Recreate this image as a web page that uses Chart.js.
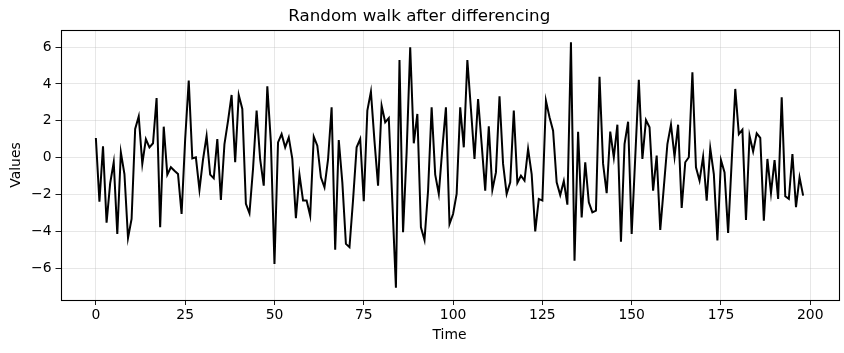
<!DOCTYPE html>
<html>
<head>
<meta charset="utf-8">
<script src="https://cdn.jsdelivr.net/npm/chart.js@4.4.1/dist/chart.umd.min.js"></script>
<style>
  html, body { margin: 0; padding: 0; background: #fff; }
  canvas { display: block; }
</style>
</head>
<body>
<canvas id="chart" width="844" height="353"></canvas>
<script>
// Valores (serie diferenciada, 199 puntos)
const values = [
  1.07, -2.39, 0.61, -3.53, -1.4, -0.25, -4.14, 0.29, -0.89, -4.36,
  -3.33, 1.56, 2.24, -0.34, 1.01, 0.56, 0.78, 3.24, -3.78, 1.68,
  -0.92, -0.52, -0.71, -0.89, -3.06, 1.0, 4.18, -0.04, 0.02, -1.75,
  -0.1, 1.18, -0.92, -1.12,
  1.01, -2.30, 0.74, 2.0, 3.4, -0.25, 3.4, 2.64, -2.51, -3.02,
  -0.6, 2.55, -0.1, -1.52, 3.87, 0.83, -5.77, 0.83, 1.28, 0.56,
  1.1, -0.07, -3.29, -0.92, -2.33, -2.33, -3.15, 1.14, 0.65, -1.07,
  -1.61,
  -0.1, 2.73, -5.0, 0.96, -1.34, -4.68, -4.86, -2.3, 0.56, 1.01,
  -2.37, 2.55, 3.58, 0.9, -1.52, 2.82, 1.92, 2.15, -2.4, -7.06,
  5.30, -4.05, 0.3, 5.99, 0.78, 2.37, -3.78, -4.47, -1.8, 2.73,
  -0.92, -1.97, 0.5, 2.73, -3.6,
  -3.06, -1.97, 2.73, 0.56, 5.30, 2.64, -0.07, 3.18, 0.74, -1.79,
  1.70, -1.74, -0.80, 3.33, -0.34, -1.97, -1.34, 2.55, -1.37, -0.98,
  -1.25, 0.47, -0.89, -4.0, -2.24, -2.33, 3.09, 2.19, 1.46, -1.34,
  -2.03, -1.27, -2.55,
  6.26, -5.59, 1.41, -3.24, -0.25, -2.42, -2.97, -2.88, 4.39, -0.34,
  -1.93, 1.41, 0.02, 1.79, -4.56, 0.74, 1.95, -4.14, 0.02, 4.23,
  -0.07, 2.04, 1.65, -1.79, 0.11, -3.92, -1.6, 0.74, 1.79, 0.05,
  1.79, -2.73,
  -0.25, 0.02, 4.63, -0.52, -1.25, 0.05, -2.33, 0.51, -0.89, -4.5,
  -0.13, -0.80, -4.09, -0.2, 3.73, 1.28, 1.52, -3.38, 1.19, 0.34,
  1.32, 1.07, -3.42, -0.07, -1.92, -0.13, -2.24, 3.27, -2.1, -2.24,
  0.2, -2.69, -1.07, -2.06
];
const xTicks = [0, 25, 50, 75, 100, 125, 150, 175, 200];
const yTicks = [-6, -4, -2, 0, 2, 4, 6];

const FONT = "'DejaVu Sans', sans-serif";
const GRID = "rgba(176,176,176,0.35)";

// Márgenes automáticos como matplotlib (5%)
const n = values.length;
const xMin = -0.05 * (n - 1), xMax = (n - 1) * 1.05;
const vMin = Math.min(...values), vMax = Math.max(...values);
const yMin = vMin - 0.05 * (vMax - vMin), yMax = vMax + 0.05 * (vMax - vMin);

const fmt = (v) => String(v).replace("-", "\u2212");

// Marco completo alrededor del área del gráfico
const frame = {
  id: "frame",
  afterDraw(chart) {
    const { ctx, chartArea: a } = chart;
    ctx.save();
    ctx.strokeStyle = "#000";
    ctx.lineWidth = 1.1;
    ctx.strokeRect(Math.round(a.left) + 0.5, Math.round(a.top) + 0.5,
      Math.round(a.right - a.left), Math.round(a.bottom - a.top));
    ctx.restore();
  }
};

new Chart(document.getElementById("chart"), {
  type: "line",
  data: {
    datasets: [{
      data: values.map((v, i) => ({ x: i, y: v })),
      borderColor: "#000",
      borderWidth: 2,
      pointRadius: 0,
      tension: 0,
      fill: false
    }]
  },
  options: {
    responsive: false,
    animation: false,
    layout: { padding: { left: 0, right: 5.5, top: 0, bottom: 0 } },
    plugins: {
      legend: { display: false },
      tooltip: { enabled: false },
      title: {
        display: true,
        text: "Random walk after differencing",
        color: "#000",
        font: { family: FONT, size: 16.7, weight: "normal" },
        padding: { top: 6.5, bottom: 3.5 }
      }
    },
    scales: {
      x: {
        type: "linear",
        min: xMin,
        max: xMax,
        afterBuildTicks: (s) => { s.ticks = xTicks.map((v) => ({ value: v })); },
        afterFit: (s) => { s.height = 53; },
        grid: { color: GRID, lineWidth: 0.9, tickColor: "#000", tickLength: 5 },
        border: { display: false },
        ticks: {
          color: "#000",
          font: { family: FONT, size: 13.9 },
          padding: 2.5,
          maxRotation: 0,
          callback: fmt
        },
        title: {
          display: true,
          text: "Time",
          color: "#000",
          font: { family: FONT, size: 13.9 },
          padding: { top: 0, bottom: 9.5 }
        }
      },
      y: {
        type: "linear",
        min: yMin,
        max: yMax,
        afterBuildTicks: (s) => { s.ticks = yTicks.map((v) => ({ value: v })); },
        afterFit: (s) => { s.width = 60.5; },
        grid: { color: GRID, lineWidth: 0.9, tickColor: "#000", tickLength: 5 },
        border: { display: false },
        ticks: {
          color: "#000",
          font: { family: FONT, size: 13.9 },
          padding: 4,
          callback: fmt
        },
        title: {
          display: true,
          text: "Values",
          color: "#000",
          font: { family: FONT, size: 13.9 },
          padding: { top: 8.5, bottom: 0 }
        }
      }
    }
  },
  plugins: [frame]
});
</script>
</body>
</html>
